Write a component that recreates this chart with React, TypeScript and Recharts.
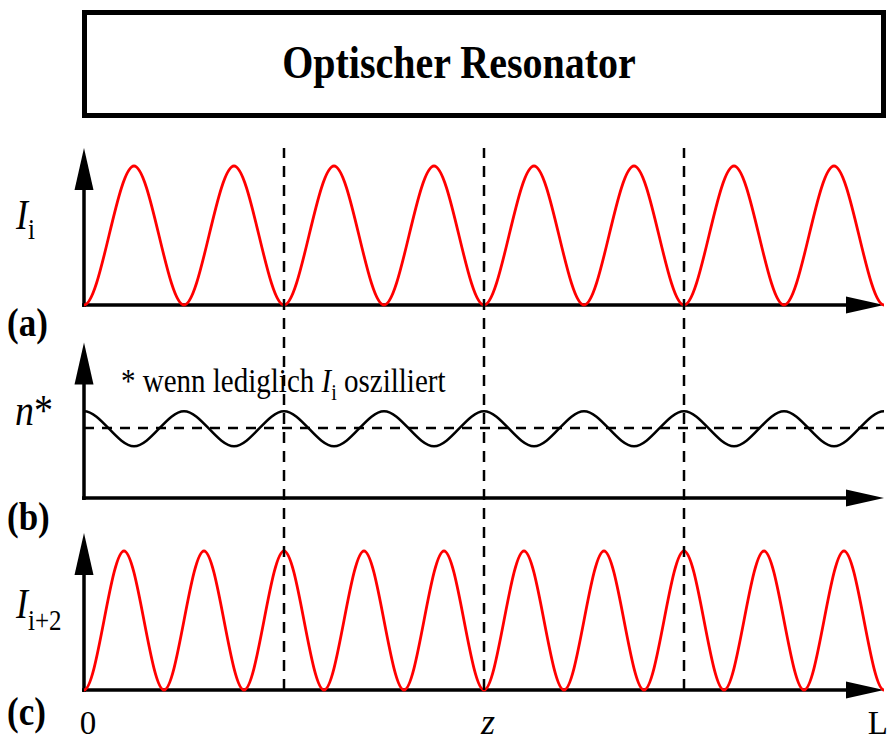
import { Line, LineChart, ReferenceLine, XAxis, YAxis } from "recharts";

// z as a fraction of the resonator length L
const zModeI = [
  0, 0.0625, 0.125, 0.1875, 0.25, 0.3125, 0.375, 0.4375, 0.5,
  0.5625, 0.625, 0.6875, 0.75, 0.8125, 0.875, 0.9375, 1,
];
// intensity of mode i: nodes and antinodes
const intensityI = [0, 1, 0, 1, 0, 1, 0, 1, 0, 1, 0, 1, 0, 1, 0, 1, 0];
// inversion n* while only mode i oscillates (same z grid)
const nStar = [
  0.62, 0.37, 0.62, 0.37, 0.62, 0.37, 0.62, 0.37, 0.62,
  0.37, 0.62, 0.37, 0.62, 0.37, 0.62, 0.37, 0.62,
];
const nStarMean = 0.5;

const zModeI2 = [
  0, 0.05, 0.1, 0.15, 0.2, 0.25, 0.3, 0.35, 0.4, 0.45, 0.5,
  0.55, 0.6, 0.65, 0.7, 0.75, 0.8, 0.85, 0.9, 0.95, 1,
];
const intensityI2 = [0, 1, 0, 1, 0, 1, 0, 1, 0, 1, 0, 1, 0, 1, 0, 1, 0, 1, 0, 1, 0];

const zTicks = [0, 0.5, 1];
const zTickLabels = ["0", "z", "L"];
const markerZ = [0.25, 0.5, 0.75];

const rowsI = zModeI.map((z, i) => ({ z, v: intensityI[i] }));
const rowsN = zModeI.map((z, i) => ({ z, v: nStar[i] }));
const rowsI2 = zModeI2.map((z, i) => ({ z, v: intensityI2[i] }));

// layout
const W = 889;
const H = 742;
const PLOT_LEFT = 84;
const PLOT_RIGHT = 884;
const PLOT_TOP = 148;
const PLOT_BOTTOM = 690;
const X_AXIS_H = 40;
const SERIF = '"Liberation Serif", "Times New Roman", serif';
const SY = 1.15; // glyphs are drawn a bit taller than wide

type Band = { id: string; base: number; unit: number; top: number };
const bands: Band[] = [
  { id: "a", base: 305, unit: 139, top: 1.13 },
  { id: "b", base: 498, unit: 140, top: 1.11 },
  { id: "c", base: 690, unit: 139, top: 1.13 },
];
// each panel gets its own y scale covering the full plot height
const bandDomain = (b: Band): [number, number] => [
  -(PLOT_BOTTOM - b.base) / b.unit,
  (b.base - PLOT_TOP) / b.unit,
];

// d3-style curve: cubic segments with flat tangents at every sample,
// so extrema (including the ends) come out rounded like a standing wave
function flatTangentCurve(context: any) {
  let px = 0;
  let py = 0;
  let n = 0;
  return {
    areaStart() {},
    areaEnd() {},
    lineStart() {
      n = 0;
    },
    lineEnd() {},
    point(x: number, y: number) {
      x = +x;
      y = +y;
      if (n === 0) context.moveTo(x, y);
      else {
        const d = (x - px) / 3;
        context.bezierCurveTo(px + d, py, x - d, y, x, y);
      }
      px = x;
      py = y;
      n += 1;
    },
  };
}

function ArrowLine(props: any) {
  const { x1, y1, x2, y2, dir } = props;
  if (dir === "x") {
    const y = y1;
    const xs = Math.min(x1, x2);
    const xe = Math.max(x1, x2);
    return (
      <g>
        <line x1={xs - 2} y1={y} x2={xe - 30} y2={y} stroke="#000" strokeWidth={3.5} />
        <polygon points={`${xe},${y} ${xe - 38},${y - 8.5} ${xe - 38},${y + 8.5}`} fill="#000" />
      </g>
    );
  }
  const x = x1;
  const ys = Math.max(y1, y2);
  const ye = Math.min(y1, y2);
  return (
    <g>
      <line x1={x} y1={ys + 2} x2={x} y2={ye + 34} stroke="#000" strokeWidth={3.5} />
      <polygon points={`${x},${ye} ${x - 9.5},${ye + 42} ${x + 9.5},${ye + 42}`} fill="#000" />
    </g>
  );
}

function ZTick(props: any) {
  const { x, y, payload } = props;
  const label = zTickLabels[zTicks.indexOf(payload.value)];
  const italic = label === "z";
  const last = payload.value === 1;
  return (
    <text
      x={last ? x + 4 : x + 4}
      y={y + 36}
      textAnchor={last ? "end" : "middle"}
      fontFamily={SERIF}
      fontSize={italic ? 36 : 33}
      fontStyle={italic ? "italic" : "normal"}
      fill="#000"
    >
      {label}
    </text>
  );
}

function Tall({ x, y, children }: { x: number; y: number; children: any }) {
  return <g transform={`translate(${x} ${y}) scale(1 ${SY})`}>{children}</g>;
}

export default function App() {
  return (
    <div style={{ position: "absolute", left: 0, top: 0, width: W, height: H, background: "#fff" }}>
      <LineChart
        width={W}
        height={H}
        margin={{
          top: PLOT_TOP,
          right: W - PLOT_RIGHT,
          bottom: H - PLOT_BOTTOM - X_AXIS_H,
          left: PLOT_LEFT,
        }}
      >
        <XAxis
          dataKey="z"
          type="number"
          domain={[0, 1]}
          ticks={zTicks}
          height={X_AXIS_H}
          axisLine={false}
          tickLine={false}
          tick={<ZTick />}
          interval={0}
        />
        {bands.map((b) => (
          <YAxis key={b.id} yAxisId={b.id} type="number" domain={bandDomain(b)} hide />
        ))}

        {bands.map((b) => (
          <ReferenceLine
            key={`x-${b.id}`}
            yAxisId={b.id}
            y={0}
            ifOverflow="visible"
            shape={<ArrowLine dir="x" />}
          />
        ))}
        {bands.map((b) => (
          <ReferenceLine
            key={`y-${b.id}`}
            yAxisId={b.id}
            segment={[
              { x: 0, y: 0 },
              { x: 0, y: b.top },
            ]}
            ifOverflow="visible"
            shape={<ArrowLine dir="y" />}
          />
        ))}

        <ReferenceLine
          yAxisId="b"
          y={nStarMean}
          stroke="#000"
          strokeWidth={2.5}
          strokeDasharray="10 8"
        />

        <Line
          yAxisId="a"
          data={rowsI}
          dataKey="v"
          type={flatTangentCurve as any}
          stroke="#ff0000"
          strokeWidth={2.8}
          dot={false}
          isAnimationActive={false}
        />
        <Line
          yAxisId="b"
          data={rowsN}
          dataKey="v"
          type={flatTangentCurve as any}
          stroke="#000"
          strokeWidth={2.5}
          dot={false}
          isAnimationActive={false}
        />
        <Line
          yAxisId="c"
          data={rowsI2}
          dataKey="v"
          type={flatTangentCurve as any}
          stroke="#ff0000"
          strokeWidth={2.8}
          dot={false}
          isAnimationActive={false}
        />

        {markerZ.map((z) => (
          <ReferenceLine
            key={`m-${z}`}
            yAxisId="a"
            x={z}
            stroke="#000"
            strokeWidth={2.5}
            strokeDasharray="11 8"
          />
        ))}
      </LineChart>

      <svg
        width={W}
        height={H}
        style={{ position: "absolute", left: 0, top: 0, pointerEvents: "none" }}
        fontFamily={SERIF}
      >
        <rect x={84.5} y={12.5} width={799} height={103} fill="none" stroke="#000" strokeWidth={5} />
        <Tall x={459} y={78}>
          <text textAnchor="middle" fontSize={40} fontWeight="bold">
            Optischer Resonator
          </text>
        </Tall>

        <Tall x={16} y={229}>
          <text fontSize={36}>
            <tspan fontStyle="italic">I</tspan>
            <tspan fontSize={25} dy={9}>i</tspan>
          </text>
        </Tall>
        <Tall x={15} y={425}>
          <text fontSize={38}>
            <tspan fontStyle="italic">n</tspan>*
          </text>
        </Tall>
        <Tall x={16} y={618}>
          <text fontSize={36}>
            <tspan fontStyle="italic">I</tspan>
            <tspan fontSize={25} dy={10}>i+2</tspan>
          </text>
        </Tall>

        <Tall x={121} y={392}>
          <text fontSize={29}>
            * wenn lediglich <tspan fontStyle="italic">I</tspan>
            <tspan fontSize={20} dy={7}>i</tspan>
            <tspan dy={-7}> oszilliert</tspan>
          </text>
        </Tall>

        <Tall x={7} y={336}>
          <text fontSize={35} fontWeight="bold">(a)</text>
        </Tall>
        <Tall x={7} y={530}>
          <text fontSize={35} fontWeight="bold">(b)</text>
        </Tall>
        <Tall x={7} y={725}>
          <text fontSize={35} fontWeight="bold">(c)</text>
        </Tall>
      </svg>
    </div>
  );
}
